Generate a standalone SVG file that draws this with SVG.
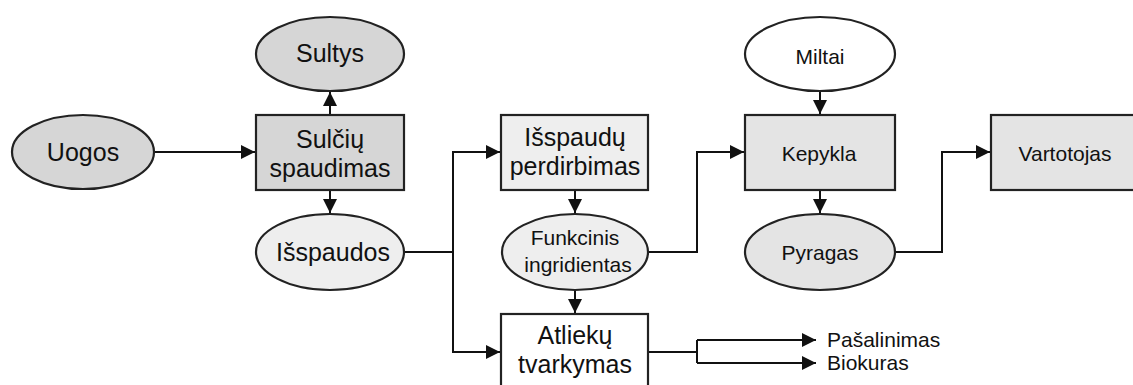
<svg xmlns="http://www.w3.org/2000/svg" width="1133" height="385" viewBox="0 0 1133 385">
<style>
.n{stroke:#222;stroke-width:2.2}
.t{font-family:"Liberation Sans",Arial,sans-serif;fill:#111;text-anchor:middle}
.L{font-size:25px}
.S{font-size:21px}
.c{fill:none;stroke:#111;stroke-width:2}
.d{fill:#d6d6d6}.m{fill:#e4e4e4}.l{fill:#eeeeee}.w{fill:#ffffff}
</style>
<defs>
<marker id="a" viewBox="0 0 10 10" refX="10" refY="5" markerWidth="14" markerHeight="14" markerUnits="userSpaceOnUse" orient="auto">
<path d="M0,0 L10,5 L0,10 z" fill="#111"/>
</marker>
</defs>
<rect width="1133" height="385" fill="#fff"/>
<g id="connectors">
<path class="c" d="M155,152 H255" marker-end="url(#a)"/>
<path class="c" d="M330,115 V92" marker-end="url(#a)"/>
<path class="c" d="M330,190 V213" marker-end="url(#a)"/>
<path class="c" d="M404,252 H453 V152 H500" marker-end="url(#a)"/>
<path class="c" d="M453,252 V352 H500" marker-end="url(#a)"/>
<path class="c" d="M575,190 V213" marker-end="url(#a)"/>
<path class="c" d="M575,290 V313" marker-end="url(#a)"/>
<path class="c" d="M649,252 H697 V152 H744" marker-end="url(#a)"/>
<path class="c" d="M820,91 V114" marker-end="url(#a)"/>
<path class="c" d="M820,190 V213" marker-end="url(#a)"/>
<path class="c" d="M895,252 H942 V152 H990" marker-end="url(#a)"/>
<path class="c" d="M648,352 H697"/>
<path class="c" d="M697,340 V363"/>
<path class="c" d="M697,340 H816" marker-end="url(#a)"/>
<path class="c" d="M697,363 H816" marker-end="url(#a)"/>
</g>
<g id="uogos"><ellipse class="n d" cx="83" cy="152" rx="71" ry="37"/><text class="t L" x="83" y="161">Uogos</text></g>
<g id="sultys"><ellipse class="n d" cx="330" cy="54" rx="74" ry="37"/><text class="t L" x="330" y="62">Sultys</text></g>
<g id="sulciu-spaudimas"><rect class="n d" x="256" y="115" width="148" height="75"/><text class="t L" x="330" y="148">Sulčių</text><text class="t L" x="330" y="177">spaudimas</text></g>
<g id="isspaudos"><ellipse class="n l" cx="330" cy="252" rx="74" ry="38"/><text class="t L" x="333" y="261">Išspaudos</text></g>
<g id="isspaudu-perdirbimas"><rect class="n l" x="501" y="115" width="147" height="75"/><text class="t L" x="575" y="146">Išspaudų</text><text class="t L" x="575" y="175">perdirbimas</text></g>
<g id="funkcinis"><ellipse class="n l" cx="575" cy="252" rx="73" ry="38"/><text class="t S" x="575" y="245">Funkcinis</text><text class="t S" x="578" y="272">ingridientas</text></g>
<g id="atlieku-tvarkymas"><rect class="n w" x="501" y="314" width="147" height="76"/><text class="t L" x="575" y="344">Atliekų</text><text class="t L" x="575" y="373">tvarkymas</text></g>
<g id="miltai"><ellipse class="n w" cx="820" cy="54" rx="75" ry="37"/><text class="t S" x="820" y="64">Miltai</text></g>
<g id="kepykla"><rect class="n m" x="745" y="115" width="150" height="75"/><text class="t S" x="819" y="161">Kepykla</text></g>
<g id="pyragas"><ellipse class="n m" cx="820" cy="252" rx="75" ry="38"/><text class="t S" x="820" y="260">Pyragas</text></g>
<g id="vartotojas"><rect class="n m" x="991" y="115" width="150" height="75"/><text class="t S" x="1065" y="161">Vartotojas</text></g>
<g id="outputs"><text class="t S" x="827" y="347" style="text-anchor:start">Pašalinimas</text><text class="t S" x="827" y="370" style="text-anchor:start">Biokuras</text></g>
</svg>
